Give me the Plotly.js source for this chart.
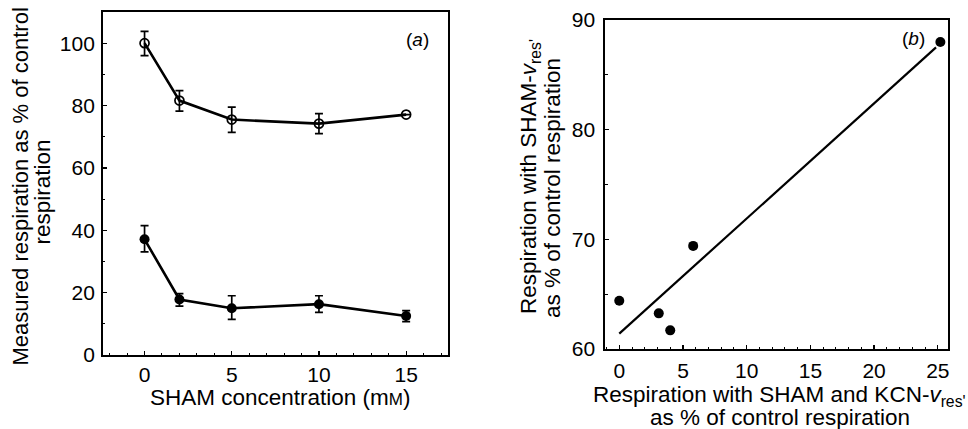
<!DOCTYPE html>
<html>
<head>
<meta charset="utf-8">
<script src="https://cdn.plot.ly/plotly-3.0.1.min.js"></script>
<style>html,body{margin:0;padding:0;background:#fff;}</style>
</head>
<body>
<div id="chart" style="width:968px;height:429px;"></div>
<script>
// Panel (a): SHAM concentration (mM)
const shamConc = [0, 2, 5, 10, 15];
// open circles
const openResp = [100, 81.6, 75.5, 74.2, 77.1];
const openErrPlus = [3.8, 3.2, 4.0, 3.2, null];
const openErrMinus = [4.0, 3.4, 4.1, 3.2, null];
// filled circles
const filledResp = [37.1, 17.8, 15.0, 16.3, 12.5];
const filledErrPlus = [4.4, 1.9, 4.0, 2.7, 1.7];
const filledErrMinus = [4.0, 2.1, 3.6, 2.6, 1.8];

// Panel (b)
const kcnResp = [0, 3.1, 4.0, 5.8, 25.2];
const shamResp = [64.4, 63.25, 61.7, 69.4, 88.0];
const fitX = [0, 24.86];
const fitY = [61.4, 87.5];

// Titles (each line separately, tight line spacing as in the figure)
const xTitleA = "SHAM concentration (m<span style='font-size:17px'>M</span>)";
const yTitleA = ['Measured respiration as % of control', 'respiration'];
const xTitleB = ["Respiration with SHAM and KCN-<i>v</i><sub>res'</sub>", 'as % of control respiration'];
const yTitleB = ["Respiration with SHAM-<i>v</i><sub>res'</sub>", 'as % of control respiration'];

const FONT = 'Liberation Sans, Arial, Helvetica, sans-serif';
const W = 968, H = 429;
const px = v => v / W;
const py = v => (H - v) / H;

const traces = [
  {
    x: shamConc, y: openResp, type: 'scatter', mode: 'lines+markers',
    xaxis: 'x', yaxis: 'y',
    line: {color: '#000', width: 2.6},
    marker: {symbol: 'circle-open', size: 9, color: '#000', line: {width: 1.7, color: '#000'}},
    error_y: {type: 'data', symmetric: false, array: openErrPlus, arrayminus: openErrMinus,
              color: '#000', thickness: 1.7, width: 4}
  },
  {
    x: shamConc, y: filledResp, type: 'scatter', mode: 'lines+markers',
    xaxis: 'x', yaxis: 'y',
    line: {color: '#000', width: 2.6},
    marker: {symbol: 'circle', size: 10, color: '#000'},
    error_y: {type: 'data', symmetric: false, array: filledErrPlus, arrayminus: filledErrMinus,
              color: '#000', thickness: 1.7, width: 4}
  },
  {
    x: fitX, y: fitY, type: 'scatter', mode: 'lines',
    xaxis: 'x2', yaxis: 'y2',
    line: {color: '#000', width: 2.2}
  },
  {
    x: kcnResp, y: shamResp, type: 'scatter', mode: 'markers',
    xaxis: 'x2', yaxis: 'y2',
    marker: {symbol: 'circle', size: 10, color: '#000'}
  }
];

const axisCommon = {
  showline: true, mirror: true, linecolor: '#000', linewidth: 1.6,
  ticks: 'inside', ticklen: 4, tickwidth: 1.2, tickcolor: '#000',
  showgrid: false, zeroline: false,
  tickfont: {family: FONT, size: 21, color: '#000'},
  fixedrange: true
};
const minorCommon = {ticks: 'inside', ticklen: 2.5, tickcolor: '#000', tickwidth: 1};

function ann(text, x, y, angle, size) {
  return {text: text, xref: 'paper', yref: 'paper', x: px(x), y: py(y),
          showarrow: false, xanchor: 'center', yanchor: 'middle',
          textangle: angle || 0, font: {family: FONT, size: size || 22.5, color: '#000'}};
}

const layout = {
  width: W, height: H,
  margin: {l: 0, r: 0, t: 0, b: 0},
  paper_bgcolor: '#fff', plot_bgcolor: '#fff',
  showlegend: false,
  font: {family: FONT, color: '#000'},
  xaxis: Object.assign({}, axisCommon, {
    domain: [px(102.7), px(448)], anchor: 'y',
    range: [-2.4, 17.4], tick0: 0, dtick: 5,
    minor: Object.assign({dtick: 1, tick0: 0}, minorCommon)
  }),
  yaxis: Object.assign({}, axisCommon, {
    domain: [py(355), py(12)], anchor: 'x',
    range: [0, 110], tick0: 0, dtick: 20,
    ticklabelstandoff: 2,
    minor: Object.assign({dtick: 10, tick0: 0}, minorCommon)
  }),
  xaxis2: Object.assign({}, axisCommon, {
    domain: [px(605), px(948)], anchor: 'y2',
    range: [-1.12, 25.8], tick0: 0, dtick: 5,
    ticklabelstandoff: 2,
    minor: Object.assign({dtick: 1, tick0: 0}, minorCommon)
  }),
  yaxis2: Object.assign({}, axisCommon, {
    domain: [py(349), py(20)], anchor: 'x2',
    range: [60, 90], tick0: 60, dtick: 10,
    ticklabelstandoff: 4,
    minor: Object.assign({dtick: 5, tick0: 60}, minorCommon)
  }),
  annotations: [
    ann(xTitleA, 280, 397.5),
    ann(yTitleA[0], 19.5, 187, -90, 22),
    ann(yTitleA[1], 41.5, 192, -90),
    ann(xTitleB[0], 779, 395.5),
    ann(xTitleB[1], 780, 417),
    ann(yTitleB[0], 530, 177, -90),
    ann(yTitleB[1], 552, 188, -90),
    {text: '(<i>a</i>)', xref: 'paper', yref: 'paper', x: px(417), y: py(39),
     showarrow: false, xanchor: 'center', yanchor: 'middle',
     font: {family: FONT, size: 19, color: '#000'}},
    {text: '(<i>b</i>)', xref: 'paper', yref: 'paper', x: px(913), y: py(38),
     showarrow: false, xanchor: 'center', yanchor: 'middle',
     font: {family: FONT, size: 19, color: '#000'}}
  ]
};

Plotly.newPlot('chart', traces, layout, {displayModeBar: false, staticPlot: true});
</script>
</body>
</html>
